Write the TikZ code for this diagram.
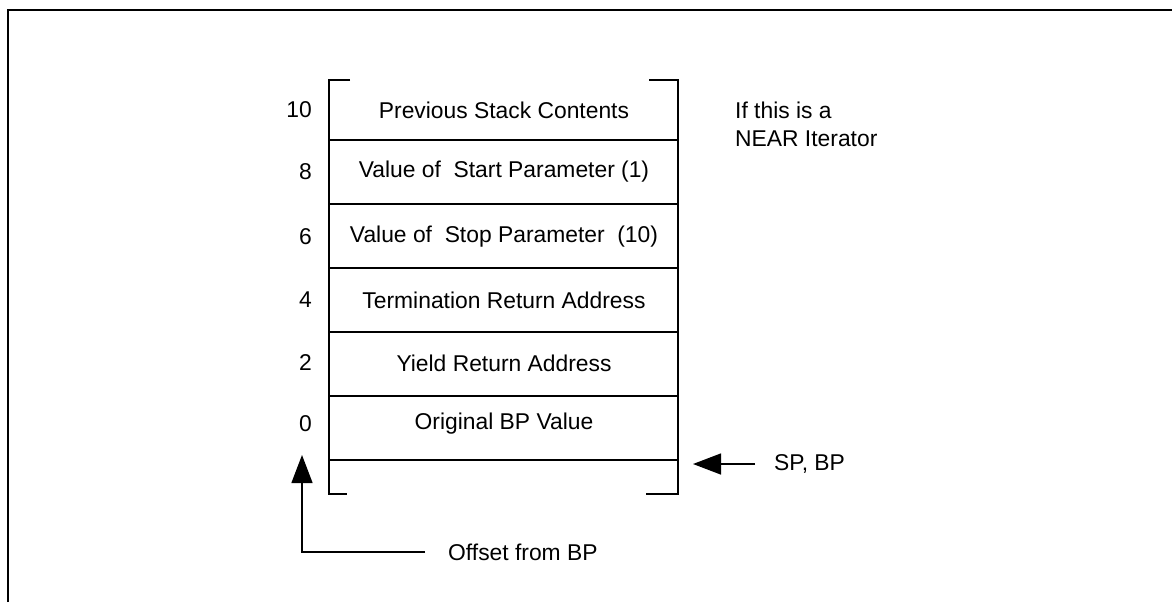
\documentclass[tikz,border=0pt]{standalone}
\usepackage{fontspec}
\setmainfont{Liberation Sans}
\usetikzlibrary{positioning,arrows.meta}

\begin{document}
\begin{tikzpicture}
  [x=0.02cm, y=-0.02cm,
   every node/.style={font=\fontsize{13}{16}\selectfont},
   stackline/.style={line width=0.8pt},
   >={Triangle[length=0.56cm, width=0.42cm]}]

  \useasboundingbox (0,0) rectangle (1172,602);
  \draw [line width=0.7pt] (8,602) |- (1172,10);

  % stack frame
  \coordinate (TL) at (329,80);
  \coordinate (TR) at (678,80);
  \coordinate (BL) at (329,494);
  \coordinate (BR) at (678,494);
  \draw [stackline] (350,80) -- (TL) -- (BL) -- (347,494);
  \draw [stackline] (649,80) -- (TR) -- (BR) -- (646,494);

  \foreach \y in {140,204,268,332,396,460}
    \draw [stackline] (TL |- 0,\y) -- (TR |- 0,\y);

  \foreach \off/\y/\txt in {10/110/Previous Stack Contents,
                            8/172/Value of\ \ Start Parameter (1),
                            6/237/Value of\ \ Stop Parameter\ \ (10),
                            4/300/Termination Return Address,
                            2/363/Yield Return Address,
                            0/424/Original BP Value}
  {
    \node (cell\off) at (504,\y) {\txt};
    \node (off\off) [anchor=east] at (318,\y) {\off};
  }

  \node (near) [anchor=west, align=left] at (729,124) {If this is a\\NEAR Iterator};

  % pointers
  \node (spbp) [anchor=west] at (768,464) {SP, BP};
  \coordinate (sptail) at (755,464);
  \coordinate (sptip) at (693,464);
  \draw [stackline, ->] (sptail) -- (sptip);

  \node (offset) [anchor=west] at (442,552) {Offset from BP};
  \coordinate (offtail) at (425,552);
  \coordinate (offtip) at (302,455);
  \draw [stackline, ->] (offtail) -| (offtip);

\end{tikzpicture}
\end{document}
